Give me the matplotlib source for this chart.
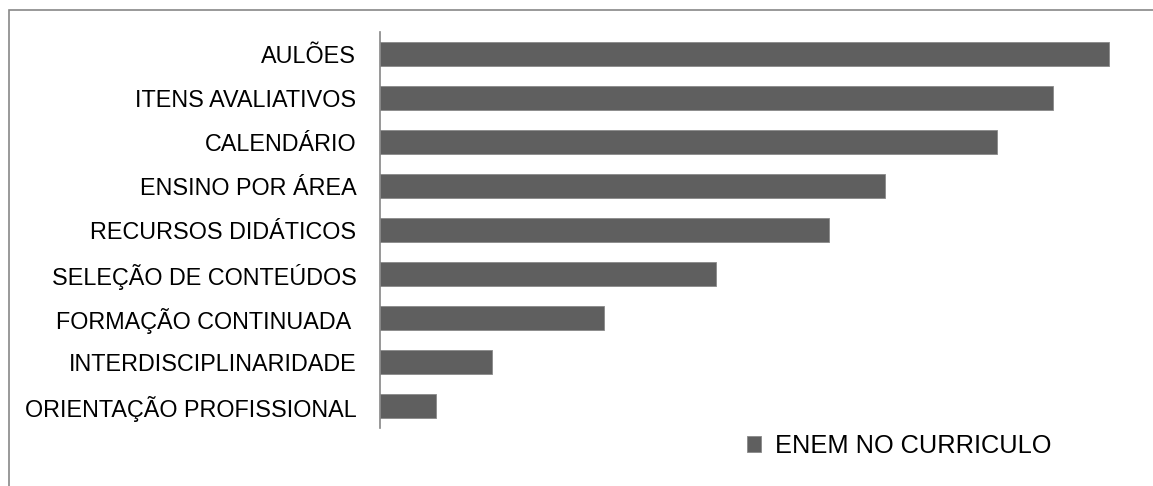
import matplotlib.pyplot as plt
from matplotlib.patches import Rectangle

categorias = ["ORIENTAÇÃO PROFISSIONAL", "INTERDISCIPLINARIDADE", "FORMAÇÃO CONTINUADA ",
              "SELEÇÃO DE CONTEÚDOS", "RECURSOS DIDÁTICOS", "ENSINO POR ÁREA",
              "CALENDÁRIO", "ITENS AVALIATIVOS", "AULÕES"]
valores = [1, 2, 4, 6, 8, 9, 11, 12, 13]
serie = "ENEM NO CURRICULO"

W, H = 1153, 486
fig = plt.figure(figsize=(W / 100, H / 100), dpi=100)
plt.rcParams['font.family'] = ['Liberation Sans', 'DejaVu Sans']

# moldura do grafico (so esquerda e topo aparecem)
fig.add_artist(Rectangle((9 / W, -0.1), 1.2, 1.1 - 10 / H, transform=fig.transFigure,
                         fill=False, edgecolor="#888888", lw=1.2))

px_unit = 56.08
ax = fig.add_axes([380 / W, 1 - 428 / H, (W - 380) / W, 396 / H])
ax.barh(range(len(categorias)), valores, height=0.56, color="#5f5f5f",
        edgecolor="#8a8a8a", linewidth=0.6, label=serie)
ax.set_xlim(0, (W - 380) / px_unit)
ax.set_ylim(-0.5, len(categorias) - 0.5)
ax.set_yticks(range(len(categorias)))
ax.set_yticklabels(categorias, fontsize=16.8, color="#000000")
ax.tick_params(axis="y", length=0, pad=17)
ax.set_xticks([])
for s in ["top", "right", "bottom"]:
    ax.spines[s].set_visible(False)
ax.spines["left"].set_color("#868686")
ax.spines["left"].set_linewidth(1.2)

fig.legend(loc="center left", bbox_to_anchor=(724 / W, 1 - 446 / H), frameon=False,
           fontsize=18.3, handlelength=0.55, handleheight=0.55, handletextpad=0.55)

fig.savefig("out.png", dpi=100)
